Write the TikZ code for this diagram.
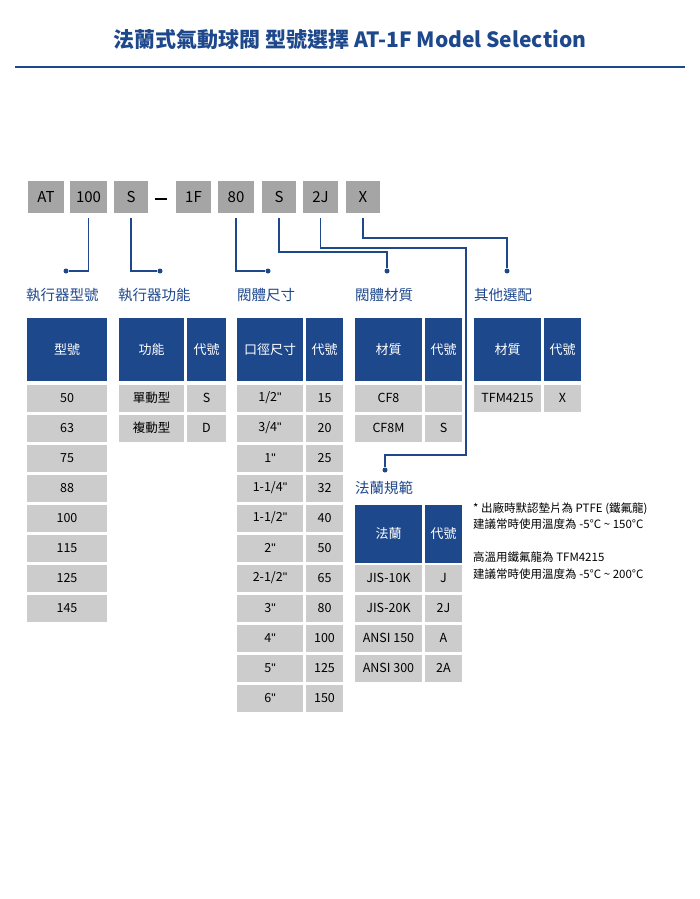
\documentclass[tikz,border=0pt]{standalone}
\usepackage{fontspec}
\setmainfont{Noto Sans CJK TC}
\newfontfamily\quotefont{Liberation Sans}
\usetikzlibrary{positioning}
\definecolor{navy}{RGB}{30,72,140}
\definecolor{codegray}{RGB}{165,165,165}
\definecolor{cellgray}{RGB}{204,204,204}
\newcommand\inch{{\quotefont\char34\relax}}
\begin{document}
\begin{tikzpicture}[x=1pt,y=-1pt,
% code boxes on top
codebox/.style = {fill=codegray, minimum height=32pt, inner sep=0, font=\fontsize{15}{15}\selectfont},
% table cells
cell/.style = {fill=cellgray, minimum height=27pt, inner sep=0, font=\fontsize{12.5}{12.5}\selectfont},
head/.style = {fill=navy, text=white, minimum height=63pt, inner sep=0, font=\fontsize{13}{13}\selectfont},
lbl/.style = {text=navy, anchor=west, inner sep=0, font=\fontsize{14.5}{14.5}\selectfont},
link/.style = {navy, line width=1.6pt},
dot/.style = {circle, fill=navy, inner sep=0, minimum size=5pt}]
\useasboundingbox (0,0) rectangle (700,899);
\node[text=navy, font=\fontsize{21}{21}\selectfont\bfseries] (title) at (350,40) {法蘭式氣動球閥 型號選擇 AT-1F Model Selection};
\draw[navy, line width=2pt] (15,67) -- (685,67);
% code row
\node[codebox, minimum width=36pt] (cAT) at (46,197) {AT};
\node[codebox, minimum width=37pt] (c100) at (88.5,197) {100};
\node[codebox, minimum width=34pt] (cS1) at (131,197) {S};
\node[fill=black, minimum width=12pt, minimum height=2.5pt, inner sep=0] (cdash) at (161,199) {};
\node[codebox, minimum width=35pt] (c1F) at (193.5,197) {1F};
\node[codebox, minimum width=36pt] (c80) at (236,197) {80};
\node[codebox, minimum width=34pt] (cS2) at (279,197) {S};
\node[codebox, minimum width=35pt] (c2J) at (320.5,197) {2J};
\node[codebox, minimum width=34pt] (cX) at (363,197) {X};
% end dots
\node[dot] (dModel) at (66,271) {};
\node[dot] (dFunc) at (160,271) {};
\node[dot] (dSize) at (268,271) {};
\node[dot] (dMat) at (387,271) {};
\node[dot] (dOpt) at (507,271) {};
\node[dot] (dFlange) at (385,470) {};
% labels
\node[lbl] (lModel) at (26,295) {執行器型號};
\node[lbl] (lFunc) at (118,295) {執行器功能};
\node[lbl] (lSize) at (237,295) {閥體尺寸};
\node[lbl] (lMat) at (355,295) {閥體材質};
\node[lbl] (lOpt) at (474,295) {其他選配};
\node[lbl] (lFlange) at (355,488) {法蘭規範};
% connectors
\draw[link] ([yshift=-5pt]c100.south) |- (dModel);
\draw[link] ([yshift=-5pt]cS1.south) |- (dFunc);
\draw[link] ([yshift=-5pt]c80.south) |- (dSize);
\draw[link] ([yshift=-5pt]cS2.south) |- (387,252) -- (dMat);
\draw[link] ([yshift=-5pt]c2J.south) |- (466,248) |- (385,455) -- (dFlange);
\draw[link] ([yshift=-5pt]cX.south) |- (507,238) -- (dOpt);
% model table
\node[head, minimum width=80pt] (hModel) at (67,349.5) {型號};
\foreach \v [count=\i] in {50,63,75,88,100,115,125,145}
  \node[cell, minimum width=80pt] (m\i) at (67,368+30*\i) {\v};
% function table
\node[head, minimum width=65pt] (hFunc) at (151.5,349.5) {功能};
\node[head, minimum width=39pt] (hFuncC) at (206.5,349.5) {代號};
\foreach \a/\b [count=\i] in {單動型/S,複動型/D}{
  \node[cell, minimum width=65pt] (f\i) at (151.5,368+30*\i) {\a};
  \node[cell, minimum width=39pt] (fc\i) at (206.5,368+30*\i) {\b};}
% size table
\node[head, minimum width=66pt] (hSize) at (270,349.5) {口徑尺寸};
\node[head, minimum width=37pt] (hSizeC) at (324.5,349.5) {代號};
\foreach \a/\b [count=\i] in {{1/2\inch}/15,{3/4\inch}/20,{1\inch}/25,{1-1/4\inch}/32,{1-1/2\inch}/40,{2\inch}/50,{2-1/2\inch}/65,{3\inch}/80,{4\inch}/100,{5\inch}/125,{6\inch}/150}{
  \node[cell, minimum width=66pt] (s\i) at (270,368+30*\i) {\a};
  \node[cell, minimum width=37pt] (sc\i) at (324.5,368+30*\i) {\b};}
% material table
\node[head, minimum width=67pt] (hMat) at (388.5,349.5) {材質};
\node[head, minimum width=37pt] (hMatC) at (443.5,349.5) {代號};
\foreach \a/\b [count=\i] in {CF8/{},CF8M/S}{
  \node[cell, minimum width=67pt] (t\i) at (388.5,368+30*\i) {\a};
  \node[cell, minimum width=37pt] (tc\i) at (443.5,368+30*\i) {\b};}
% option table
\node[head, minimum width=67pt] (hOpt) at (507.5,349.5) {材質};
\node[head, minimum width=37pt] (hOptC) at (562.5,349.5) {代號};
\node[cell, minimum width=67pt] (o1) at (507.5,398) {TFM4215};
\node[cell, minimum width=37pt] (oc1) at (562.5,398) {X};
% flange table
\node[head, minimum width=67pt, minimum height=58pt] (hFl) at (388.5,534) {法蘭};
\node[head, minimum width=37pt, minimum height=58pt] (hFlC) at (443.5,534) {代號};
\foreach \a/\b [count=\i] in {JIS-10K/J,JIS-20K/2J,ANSI 150/A,ANSI 300/2A}{
  \node[cell, minimum width=67pt] (g\i) at (388.5,548+30*\i) {\a};
  \node[cell, minimum width=37pt] (gc\i) at (443.5,548+30*\i) {\b};}
% notes
\node[anchor=north west, align=left, inner sep=0, font=\fontsize{11.5}{16.5}\selectfont] (note) at (473,502)
  {* 出廠時默認墊片為 PTFE (鐵氟龍)\\建議常時使用溫度為 -5°C \textasciitilde{} 150°C\\[16.5pt]高溫用鐵氟龍為 TFM4215\\建議常時使用溫度為 -5°C \textasciitilde{} 200°C};
\end{tikzpicture}
\end{document}
